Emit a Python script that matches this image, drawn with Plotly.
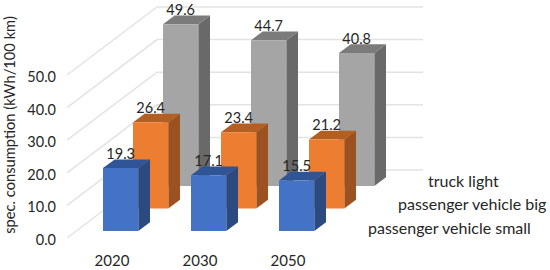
import plotly.graph_objects as go

# ---- data ----
years = ["2020", "2030", "2050"]
series_names = ["passenger vehicle small", "passenger vehicle big", "truck light"]
small = [19.3, 17.1, 15.5]
big = [26.4, 23.4, 21.2]
truck = [49.6, 44.7, 40.8]
y_ticks = [0, 10, 20, 30, 40, 50]
series_values = [small, big, truck]

# ---- styling / oblique projection constants ----
FRONT = ["#4472C4", "#ED7D31", "#A5A5A5"]
TOP = ["#2F5597", "#B45F22", "#7B7B7B"]
SIDE = ["#2A4A80", "#9C5220", "#696969"]
FONT = "Lato, Carlito, sans-serif"
TXT = "#262626"

W, H = 550, 270
ML, MB = 57, 20
PX_X = 88.0    # pixels per category
PX_Y = 3.26    # pixels per value unit
TICK0_PX = 112
Y0_PX = 238


def ux(px):
    return px / PX_X


def uy(px):
    return px / PX_Y


BAR_L, BAR_W = ux(-9), ux(35.3)
BAR_BASE = uy(7)
STEP_X, STEP_Y = ux(30), uy(22.5)
DEPTH_X, DEPTH_Y = ux(11.7), uy(8.7)
WALL_X, WALL_Y = ux(90), uy(68)
GRID_L, GRID_R = ux(67 - 112), ux(423 - 112)

fig = go.Figure()


def poly(xs, ys, color):
    fig.add_trace(go.Scatter(x=xs, y=ys, mode="lines", fill="toself", fillcolor=color,
                             line=dict(width=0, color=color), hoverinfo="skip", showlegend=False))


# gridlines on the walls
for v in y_ticks:
    fig.add_trace(go.Scatter(
        x=[GRID_L, GRID_L + WALL_X, GRID_R], y=[v, v + WALL_Y, v + WALL_Y],
        mode="lines", line=dict(color="#E3E3E3", width=1.5),
        hoverinfo="skip", showlegend=False))

# 3-D bars, back to front
for s in reversed(range(3)):
    for c, val in enumerate(series_values[s]):
        x0 = c + BAR_L + s * STEP_X
        x1 = x0 + BAR_W
        y0 = BAR_BASE + s * STEP_Y
        y1 = y0 + val
        poly([x1, x1 + DEPTH_X, x1 + DEPTH_X, x1, x1],
             [y0, y0 + DEPTH_Y, y1 + DEPTH_Y, y1, y0], SIDE[s])
        poly([x0, x0 + DEPTH_X, x1 + DEPTH_X, x1, x0],
             [y1, y1 + DEPTH_Y, y1 + DEPTH_Y, y1, y1], TOP[s])
        poly([x0, x1, x1, x0, x0], [y0, y0, y1, y1, y0], FRONT[s])

# value labels
for s in range(3):
    fig.add_trace(go.Scatter(
        x=[c + BAR_L + BAR_W / 2 + s * STEP_X for c in range(3)],
        y=[BAR_BASE + s * STEP_Y + v + uy(13) for v in series_values[s]],
        text=[f"{v:.1f}" for v in series_values[s]],
        mode="text", textposition="middle center",
        textfont=dict(family=FONT, size=14.5, color=TXT),
        hoverinfo="skip", showlegend=False))

# depth-axis labels
annotations = []
for s, name in enumerate(series_names):
    annotations.append(dict(
        x=ux(366 - 112) + s * STEP_X, y=uy(238 - 227) + s * uy(23.5),
        text=name, showarrow=False, xanchor="left", yanchor="middle",
        font=dict(family=FONT, size=16, color=TXT)))

fig.update_layout(
    width=W, height=H, margin=dict(l=ML, r=0, t=0, b=MB, pad=0),
    paper_bgcolor="white", plot_bgcolor="white", showlegend=False,
    annotations=annotations,
    xaxis=dict(range=[ux(ML - TICK0_PX), ux(W - TICK0_PX)], tickmode="array",
               tickvals=[0, 1, 2], ticktext=years, showgrid=False, zeroline=False,
               showline=False, ticks="", tickfont=dict(family=FONT, size=15, color=TXT)),
    yaxis=dict(range=[uy(Y0_PX - (H - MB)), uy(Y0_PX)], tickmode="array",
               tickvals=y_ticks, ticktext=[f"{v:.1f}" for v in y_ticks],
               showgrid=False, zeroline=False, showline=False, ticks="",
               ticklabelshift=2,
               tickfont=dict(family=FONT, size=14.5, color=TXT),
               title=dict(text="spec. consumption (kWh/100 km)", standoff=8,
                          font=dict(family=FONT, size=14.7, color=TXT))),
)

fig.write_html("out.html", post_script="document.body.style.margin='0';",
               config={"displayModeBar": False})
